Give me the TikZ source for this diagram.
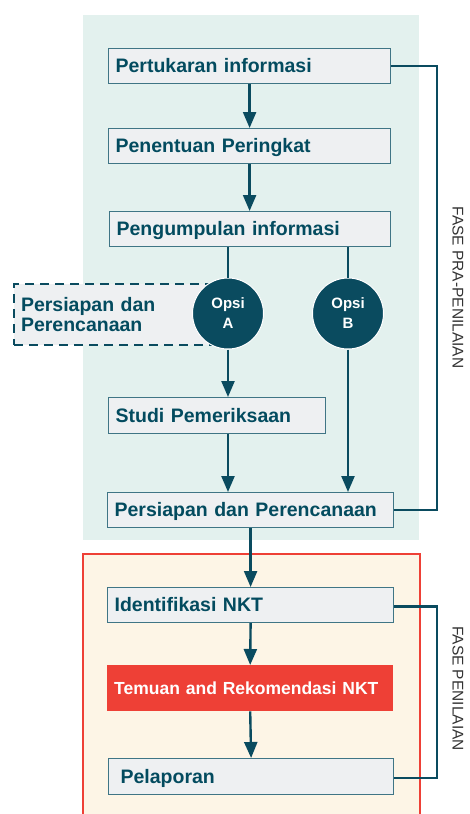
\documentclass[tikz,border=0pt]{standalone}
\usepackage{fontspec}
\setmainfont{Liberation Sans}
\usetikzlibrary{arrows.meta}
\definecolor{tealtxt}{HTML}{034B5F}
\definecolor{tealline}{HTML}{0A4B5F}
\definecolor{boxline}{HTML}{3F7585}
\definecolor{boxfill}{HTML}{EEF0F2}
\definecolor{panelgreen}{HTML}{E3F1EE}
\definecolor{cream}{HTML}{FDF5E6}
\definecolor{redc}{HTML}{EE4036}
\definecolor{labelgray}{HTML}{333333}
\begin{document}
\begin{tikzpicture}[x=1pt,y=-1pt,
  box/.style={draw=boxline, line width=1.2pt, fill=boxfill, text=tealtxt,
    font=\fontsize{19.5}{21}\selectfont\bfseries, anchor=north west, align=left,
    inner xsep=7pt, inner ysep=0pt, text height=13.5pt, text depth=0pt},
  redbox/.style={fill=redc, text=white,
    font=\fontsize{17.5}{20}\selectfont\bfseries, anchor=north west, align=left,
    inner xsep=7pt, inner ysep=0pt, text height=12.5pt, text depth=0pt},
  dashbox/.style={draw=tealline, line width=2pt, dash pattern=on 9pt off 6pt,
    fill=boxfill, text=tealtxt, font=\fontsize{19.5}{20.7}\selectfont\bfseries,
    anchor=north west, align=left, inner xsep=7pt, inner ysep=0pt},
  opsi/.style={circle, fill=tealline, draw=white, line width=1pt, minimum size=71pt,
    inner sep=0pt, text=white, font=\fontsize{15}{20}\selectfont\bfseries, align=center},
  arr/.style={draw=tealline, line width=2.4pt, -{Triangle[width=13pt,length=16pt]}},
  conn/.style={draw=tealline, line width=2.4pt},
  phase/.style={rotate=-90, text=labelgray, font=\fontsize{15.5}{18}\selectfont}
]
\useasboundingbox (0,0) rectangle (469,814);
\clip (0,0) rectangle (469,814);
% panels
\fill[panelgreen] (83,15) rectangle (419,540);
\draw[redc, line width=2pt, fill=cream] (83,554) rectangle (420,830);
% dashed box and options
\node[dashbox, text width=198pt, minimum height=61pt] (dp) at (13,283) {Persiapan dan\\Perencanaan};
\node[opsi] (ca) at (228,313.5) {Opsi\\A};
\node[opsi] (cb) at (348,313.5) {Opsi\\B};
% boxes
\node[box, text width=268pt, minimum height=35pt] (p1) at (108,48) {Pertukaran informasi};
\node[box, text width=268pt, minimum height=35pt] (p2) at (108,128) {Penentuan Peringkat};
\node[box, text width=267pt, minimum height=35pt] (p3) at (109,211) {Pengumpulan informasi};
\node[box, text width=203pt, minimum height=36pt] (p4) at (108,397) {Studi Pemeriksaan};
\node[box, text width=272pt, minimum height=35pt] (p5) at (107,492) {Persiapan dan Perencanaan};
\node[box, text width=272pt, minimum height=35pt] (p6) at (107,587) {Identifikasi NKT};
\node[redbox, text width=272pt, minimum height=46pt] (p7) at (107,665) {Temuan and Rekomendasi NKT};
\node[box, inner xsep=12pt, text width=261pt, minimum height=36pt] (p8) at (108,758) {Pelaporan};
% connectors
\draw[arr] (p1.south) -- (p2.north);
\draw[arr] (p2.south) -- (p3.north -| p2.south);
\draw[conn] (p3.south -| ca) -- (ca.north);
\draw[conn] (p3.south -| cb) -- (cb.north);
\draw[arr] (ca.south) -- (p4.north -| ca);
\draw[arr] (p4.south -| ca) -- (p5.north -| ca);
\draw[arr] (cb.south) -- (p5.north -| cb);
\draw[arr] (p5.south) -- (p6.north);
\draw[arr] (p6.south) -- (p7.north);
\draw[arr] (p7.south) -- (p8.north);
% phase brackets
\coordinate (bx) at (437,0);
\draw[conn] (p1.east) -- (p1.east -| bx) -- (p5.east -| bx) -- (p5.east);
\draw[conn] ([yshift=-1.5pt]p6.east) -- ([yshift=-1.5pt]p6.east -| bx) -- ([yshift=-1.5pt]p8.east -| bx) -- ([yshift=-1.5pt]p8.east);
% phase labels
\node[phase] (f1) at (458,287.5) {FASE PRA-PENILAIAN};
\node[phase] (f2) at (458,688.5) {FASE PENILAIAN};
\end{tikzpicture}
\end{document}
